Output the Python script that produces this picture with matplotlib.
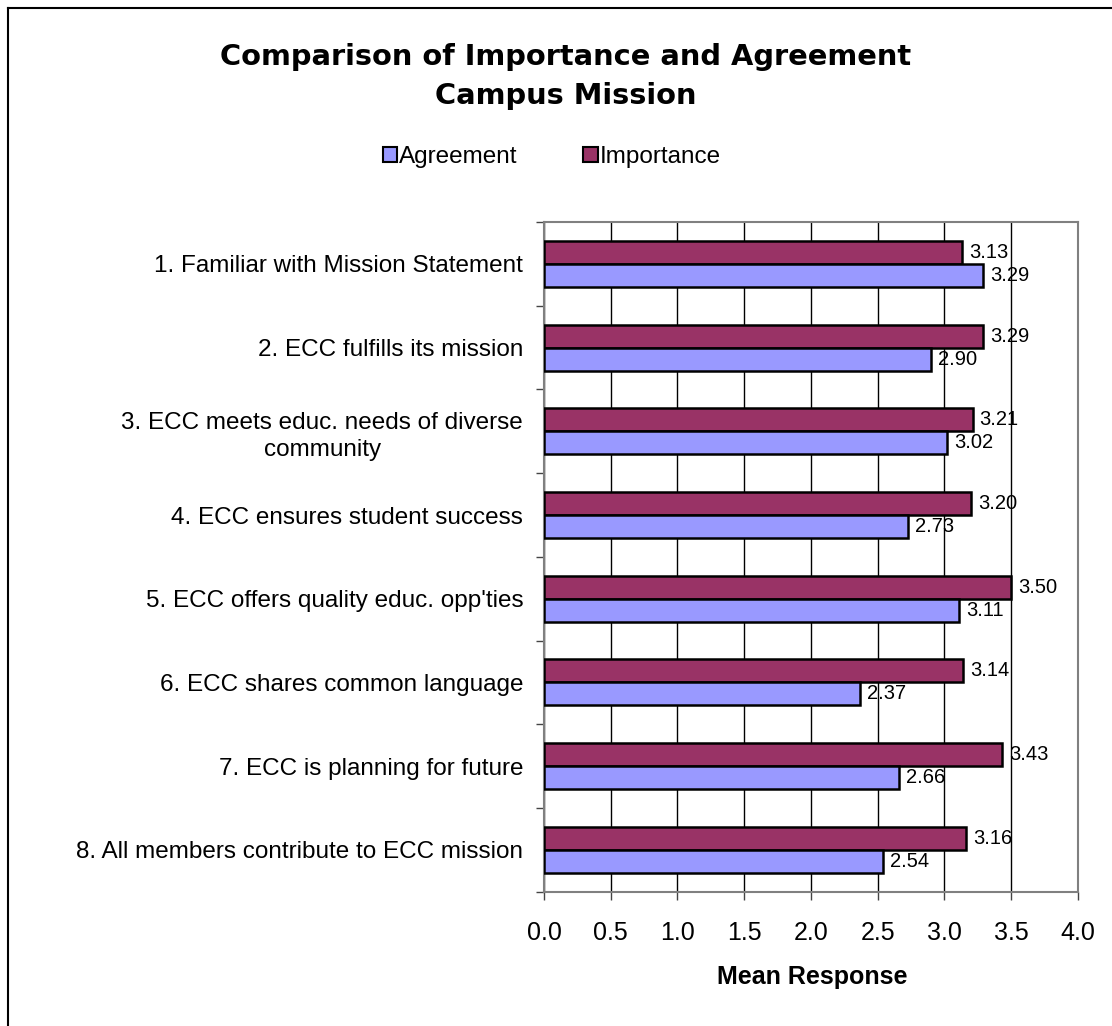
import numpy as np
import matplotlib.pyplot as plt
from matplotlib.patches import Patch
from matplotlib.lines import Line2D

plt.rcParams['font.family'] = ['Liberation Sans', 'DejaVu Sans']

# data
items = ["1. Familiar with Mission Statement",
         "2. ECC fulfills its mission",
         "3. ECC meets educ. needs of diverse\ncommunity",
         "4. ECC ensures student success",
         "5. ECC offers quality educ. opp'ties",
         "6. ECC shares common language",
         "7. ECC is planning for future",
         "8. All members contribute to ECC mission"]
agreement = [3.29, 2.90, 3.02, 2.73, 3.11, 2.37, 2.66, 2.54]
importance = [3.13, 3.29, 3.21, 3.20, 3.50, 3.14, 3.43, 3.16]

c_agree = "#9999FF"
c_imp = "#993366"

fig = plt.figure(figsize=(11.12, 10.26), dpi=100)
ax = fig.add_axes([0.4892, 0.1309, 0.4802, 0.6527])

n = len(items)
y = np.arange(n)[::-1] + 0.5   # item 1 at the top
h = 0.275

b1 = ax.barh(y + h / 2, importance, height=h, color=c_imp, edgecolor="black", linewidth=1.8, zorder=3)
b2 = ax.barh(y - h / 2, agreement, height=h, color=c_agree, edgecolor="black", linewidth=1.8, zorder=3)

for bars, vals in [(b1, importance), (b2, agreement)]:
    for bar, v in zip(bars, vals):
        ax.annotate(f"{v:.2f}", (v, bar.get_y() + bar.get_height() / 2),
                    xytext=(5, 0), textcoords="offset points",
                    va="center", ha="left", fontsize=14.5, zorder=4)

ax.set_xlim(0, 4.0)
ax.set_ylim(0, n)
ticks = np.arange(0, 4.01, 0.5)
ax.set_xticks(ticks)
ax.set_xticklabels([f"{t:.1f}" for t in ticks], fontsize=18)
ax.tick_params(axis="x", length=6, width=1, color="#444444", pad=15)
ax.xaxis.grid(True, color="black", linewidth=1, zorder=0)

ax.set_yticks(np.arange(0, n + 1))
ax.set_yticklabels([])
ax.set_yticks(y, minor=True)
ax.set_yticklabels(items, minor=True, fontsize=17.5, multialignment="center", linespacing=1.3)
ax.tick_params(axis="y", which="major", length=5.5, width=1, color="#444444")
ax.tick_params(axis="y", which="minor", length=0, pad=15)

for s in ax.spines.values():
    s.set_color("#808080")
    s.set_linewidth(1.5)

fig.text(0.730, 0.0409, "Mean Response", ha="center", va="baseline",
         fontsize=18, fontweight="bold")

fig.text(0.509, 0.9366, "Comparison of Importance and Agreement", ha="center", va="baseline",
         fontsize=20.8, fontweight="bold", family="DejaVu Sans")
fig.text(0.509, 0.8985, "Campus Mission", ha="center", va="baseline",
         fontsize=20.8, fontweight="bold", family="DejaVu Sans")

handles = [Patch(facecolor=c_agree, edgecolor="black", linewidth=1.5),
           Patch(facecolor=c_imp, edgecolor="black", linewidth=1.5)]
fig.legend(handles, ["Agreement", "Importance"], loc="center", bbox_to_anchor=(0.4964, 0.847),
           ncol=2, frameon=False, fontsize=17.5, handlelength=0.58, handleheight=0.58,
           handletextpad=0.1, columnspacing=2.7, borderpad=0)

# chart area border (top and left edges visible)
fig.add_artist(Line2D([0.0072, 1.0], [0.9922, 0.9922], transform=fig.transFigure, color="black", lw=1.5))
fig.add_artist(Line2D([0.0072, 0.0072], [0.0, 0.9922], transform=fig.transFigure, color="black", lw=1.5))

fig.savefig("out.png", dpi=100)
